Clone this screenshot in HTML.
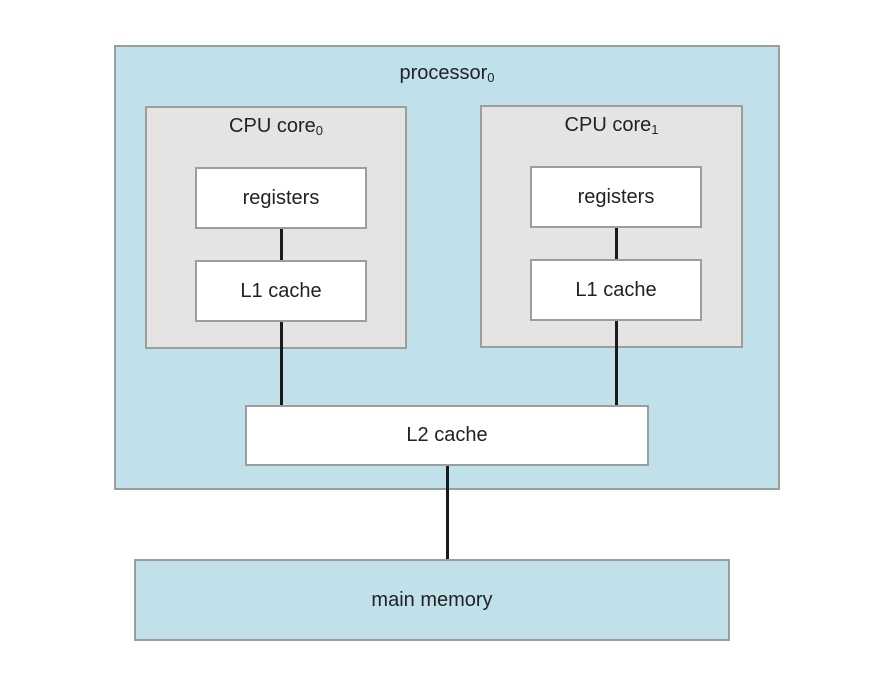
<!DOCTYPE html>
<html><head><style>
body{margin:0;width:888px;height:680px;background:#fff;position:relative;overflow:hidden;font-family:"Liberation Sans",sans-serif;color:#222}
.b{position:absolute;box-sizing:border-box;border:2px solid #9d9d9d}
.blue{background:#c0e1ea}.gray{background:#e6e4e3}.white{background:#fff}
.t{position:absolute;font-size:20px;text-align:center;white-space:nowrap}
.c{display:flex;align-items:center;justify-content:center;font-size:20px}
.l{position:absolute;background:#1a1a1a;width:3px}
sub{font-size:13px;vertical-align:-3px}
</style></head><body>
<div class="b blue" style="left:114px;top:45px;width:666px;height:445px"></div>
<div class="t" style="left:114px;width:666px;top:62px">processor<sub>0</sub></div>
<div class="b gray" style="left:145px;top:106px;width:262px;height:243px"></div>
<div class="t" style="left:145px;width:262px;top:115px">CPU core<sub>0</sub></div>
<div class="b gray" style="left:480px;top:105px;width:263px;height:243px"></div>
<div class="t" style="left:480px;width:263px;top:114px">CPU core<sub>1</sub></div>
<div class="l" style="left:280px;top:228px;height:33px"></div>
<div class="l" style="left:280px;top:320px;height:86px"></div>
<div class="l" style="left:615px;top:227px;height:33px"></div>
<div class="l" style="left:615px;top:319px;height:87px"></div>
<div class="l" style="left:446px;top:464px;height:96px"></div>
<div class="b white c" style="left:195px;top:167px;width:172px;height:62px">registers</div>
<div class="b white c" style="left:195px;top:260px;width:172px;height:62px">L1 cache</div>
<div class="b white c" style="left:530px;top:166px;width:172px;height:62px">registers</div>
<div class="b white c" style="left:530px;top:259px;width:172px;height:62px">L1 cache</div>
<div class="b white c" style="left:245px;top:405px;width:404px;height:61px">L2 cache</div>
<div class="b blue c" style="left:134px;top:559px;width:596px;height:82px">main memory</div>
</body></html>
